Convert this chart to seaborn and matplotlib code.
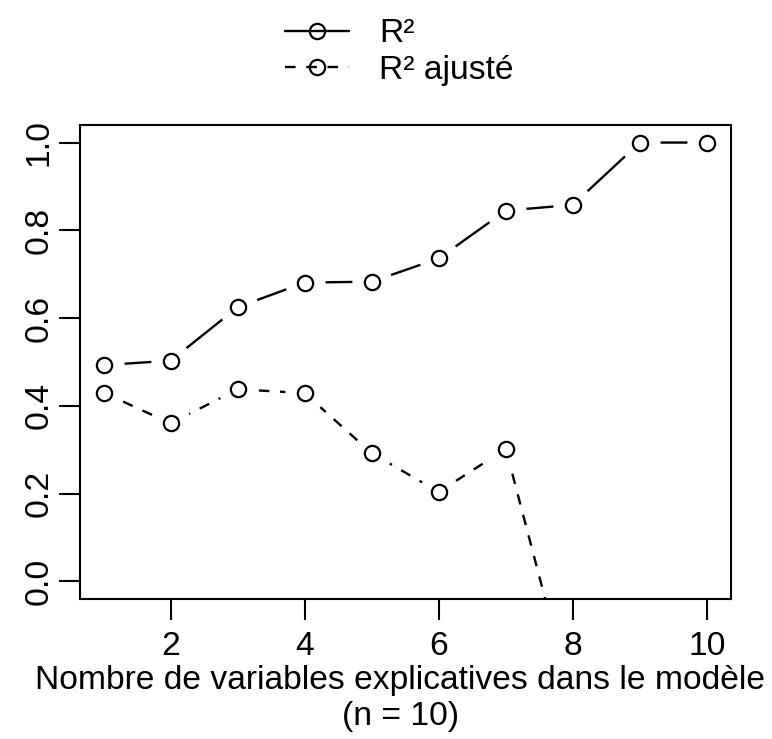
import numpy as np
import pandas as pd
import matplotlib
matplotlib.use("Agg")
import matplotlib.pyplot as plt
from matplotlib.lines import Line2D
import seaborn as sns

# Number of explanatory variables in the model
n_vars = [1, 2, 3, 4, 5, 6, 7, 8, 9, 10]
# R-squared and adjusted R-squared for each model size
r2 = [0.493, 0.503, 0.625, 0.681, 0.683, 0.736, 0.845, 0.858, 1.0, 1.0]
r2_adj = [0.430, 0.360, 0.438, 0.429, 0.292, 0.204, 0.302, -0.28, np.nan, np.nan]

x_ticks = [2, 4, 6, 8, 10]
y_ticks = [0.0, 0.2, 0.4, 0.6, 0.8, 1.0]
series_labels = ["R²", "R² ajusté"]
x_label = "Nombre de variables explicatives dans le modèle\n(n = 10)"

sns.set_style("ticks")
plt.rcParams["font.family"] = ["Liberation Sans", "DejaVu Sans"]
plt.rcParams["text.color"] = "black"
plt.rcParams["axes.labelcolor"] = "black"
plt.rcParams["xtick.color"] = "black"
plt.rcParams["ytick.color"] = "black"
FS = 24.2
LW = 1.7
MS = 11
DASH = (0, (4.5, 4.5))

df = pd.DataFrame({"k": n_vars, "r2": r2, "r2_adj": r2_adj})

fig = plt.figure(figsize=(7.72, 7.39), dpi=100)
ax = fig.add_axes([79.6 / 772, 140 / 739, 651.4 / 772, 474 / 739])


def draw_series(col, ls):
    d = df.dropna(subset=[col])
    sns.lineplot(data=d, x="k", y=col, ax=ax, color="black", linewidth=LW,
                 linestyle=ls, estimator=None, sort=False, zorder=2)
    # white disc around each point leaves a gap between line and symbol
    sns.scatterplot(data=d, x="k", y=col, ax=ax, color="white", s=29 ** 2,
                    linewidth=0, zorder=2.2)
    sns.lineplot(data=d, x="k", y=col, ax=ax, color="black", linewidth=0,
                 marker="o", markersize=MS, markerfacecolor="none",
                 markeredgecolor="black", markeredgewidth=1.6,
                 estimator=None, sort=False, zorder=3)


draw_series("r2", "-")
draw_series("r2_adj", DASH)

ax.set_xlim(0.64, 10.36)
ax.set_ylim(-0.04, 1.04)
ax.set_xticks(x_ticks)
ax.set_xticklabels([str(v) for v in x_ticks])
ax.set_yticks(y_ticks)
ax.set_yticklabels([f"{v:.1f}" for v in y_ticks])
ax.tick_params(axis="both", direction="out", length=15, width=1.5,
               labelsize=FS, color="black", labelcolor="black",
               bottom=True, left=True)
ax.tick_params(axis="x", pad=8)
ax.tick_params(axis="y", pad=3)
for lab in ax.get_yticklabels():
    lab.set_rotation(90)
    lab.set_va("center")

for sp in ax.spines.values():
    sp.set_visible(True)
    sp.set_color("black")
    sp.set_linewidth(1.5)

ax.set_xlabel(x_label, fontsize=FS, labelpad=2, linespacing=1.2,
              color="black", x=0.492)
ax.set_ylabel("")

handles = [
    Line2D([], [], color="black", lw=LW, ls="-", marker="o", mfc="none",
           mec="black", ms=MS, mew=1.6),
    Line2D([], [], color="black", lw=LW, ls=DASH, marker="o", mfc="none",
           mec="black", ms=MS, mew=1.6),
]
fig.legend(handles, series_labels, loc="center left",
           bbox_to_anchor=(285 / 772, 1 - 52 / 739), frameon=False,
           fontsize=FS, handlelength=1.9, handletextpad=0.9,
           labelspacing=0.15, borderpad=0, borderaxespad=0,
           labelcolor="black")

fig.savefig("out.png", dpi=100, facecolor="white")
